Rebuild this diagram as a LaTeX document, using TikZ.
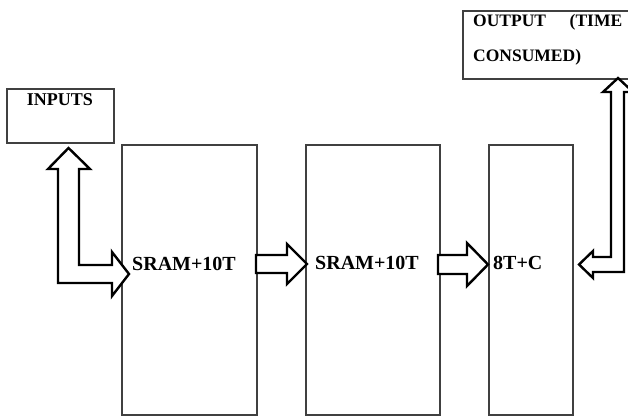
\documentclass[tikz,border=0pt]{standalone}
\usepackage{fontspec}
\setmainfont{Liberation Serif}
\begin{document}
\begin{tikzpicture}[x=1pt,y=-1pt,
  blk/.style={draw=black!75,line width=1.1pt,fill=white,inner sep=0pt,outer sep=0pt,anchor=north west},
  lbl/.style={inner sep=0pt,font=\bfseries\fontsize{20}{24}\selectfont,anchor=base west},
  blockarrow/.style={draw=black,line width=2.4pt,fill=white,line join=miter,miter limit=10}]
\useasboundingbox (0,0) rectangle (628,417);

% input and output boxes
\node[blk,minimum width=107pt,minimum height=54pt] (inbox) at (7,89) {};
\node[blk,minimum width=172pt,minimum height=68pt] (outbox) at (463,11) {};
\node[inner sep=0pt,font=\bfseries\fontsize{18}{22}\selectfont,anchor=base] (intxt) at (60,106) {INPUTS};
\node[inner sep=0pt,anchor=base west,align=left,text width=149pt,
      font=\bfseries\fontsize{17.5}{35}\selectfont] (outtxt) at (473,27)
      {OUTPUT\hfill(TIME\\CONSUMED)};

% processing blocks
\node[blk,minimum width=135pt,minimum height=270pt] (b1) at (122,145) {};
\node[blk,minimum width=134pt,minimum height=270pt] (b2) at (306,145) {};
\node[blk,minimum width=84pt,minimum height=270pt] (b3) at (489,145) {};
\node[lbl] (t1) at (132,270) {SRAM+10T};
\node[lbl] (t2) at (315,269) {SRAM+10T};
\node[lbl] (t3) at (493,269) {8T+C};

% bent arrow between INPUTS and the first block
\draw[blockarrow] (58,169) -- (48,169) -- (68.5,148) -- (90,169) -- (79,169)
  -- (79,265) -- (112,265) -- (112,252) -- (129,274) -- (112,296)
  -- (112,283) -- (58,283) -- cycle;

% arrows between blocks
\draw[blockarrow] (256,255) -- (287,255) -- (287,244) -- (307,264)
  -- (287,284) -- (287,273) -- (256,273) -- cycle;
\draw[blockarrow] (438,255) -- (467,255) -- (467,243) -- (488,264.5)
  -- (467,286) -- (467,274) -- (438,274) -- cycle;

% bent arrow from the last block up to the output box
\draw[blockarrow] (579,264.5) -- (593,251) -- (593,257) -- (611,257)
  -- (611,92) -- (603,92) -- (618,78) -- (633,92) -- (624,92)
  -- (624,272) -- (593,272) -- (593,278) -- cycle;
\end{tikzpicture}
\end{document}
